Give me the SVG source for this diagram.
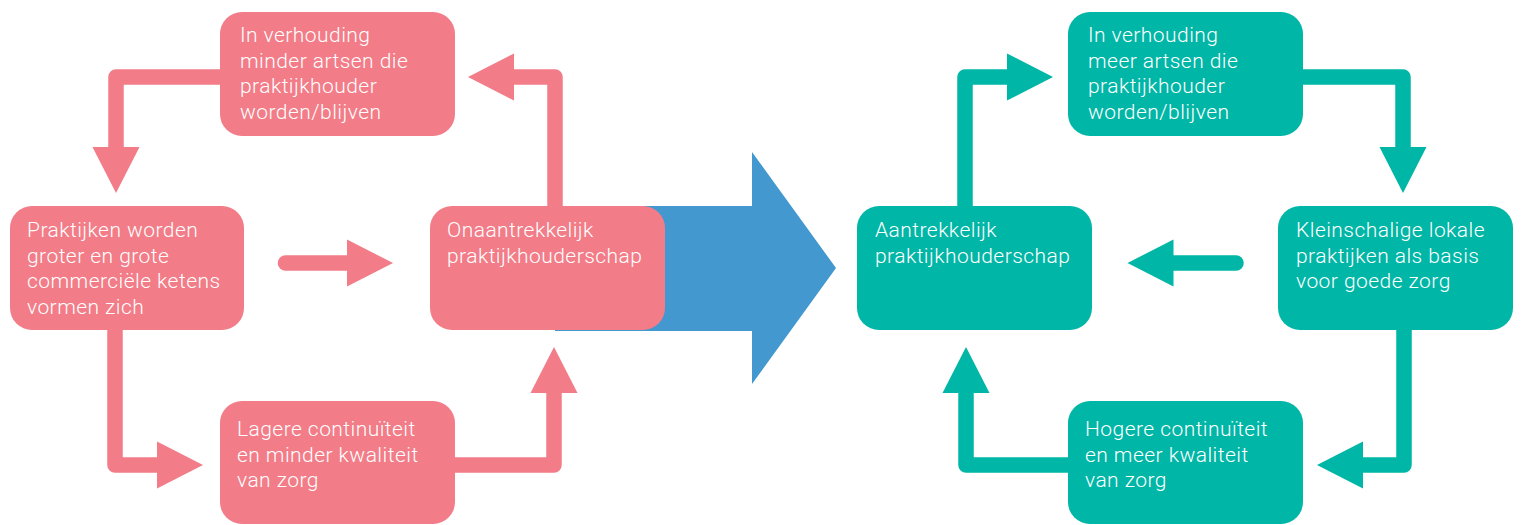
<svg xmlns="http://www.w3.org/2000/svg" width="1521" height="525" viewBox="0 0 1521 525">
<style>
.pink{fill:#F27C87}
.teal{fill:#00B6A6}
.txt{fill:#FFFFFF;font-family:Roboto,"Liberation Sans",sans-serif;font-weight:300;font-size:21px;letter-spacing:0.45px}
.cp{fill:none;stroke:#F27C87;stroke-width:15.5;stroke-linejoin:round}
.ct{fill:none;stroke:#00B6A6;stroke-width:15.5;stroke-linejoin:round}
</style>
<defs>
<marker id="hp" markerUnits="userSpaceOnUse" markerWidth="46" markerHeight="47" refX="0" refY="23.5" orient="auto" overflow="visible"><path d="M0,0 L46,23.5 L0,47 z" fill="#F27C87"/></marker>
<marker id="ht" markerUnits="userSpaceOnUse" markerWidth="46" markerHeight="47" refX="0" refY="23.5" orient="auto" overflow="visible"><path d="M0,0 L46,23.5 L0,47 z" fill="#00B6A6"/></marker>
</defs>
<polygon id="big-arrow" points="555,206 752,206 752,152 836,268 752,384 752,331 555,331" fill="#4398CF"/>
<g id="connectors">
<path class="cp" d="M222,77 H116 V147" marker-end="url(#hp)"/>
<path class="cp" d="M555,208 V77 H514" marker-end="url(#hp)"/>
<path class="cp" d="M285.5,263 H347" stroke-linecap="round" marker-end="url(#hp)"/>
<path class="cp" d="M115,328 V465 H157" marker-end="url(#hp)"/>
<path class="cp" d="M453,465 H554 V393" marker-end="url(#hp)"/>
<path class="ct" d="M965,208 V77 H1007" marker-end="url(#ht)"/>
<path class="ct" d="M1300,77 H1403 V147" marker-end="url(#ht)"/>
<path class="ct" d="M1236,263 H1173.5" stroke-linecap="round" marker-end="url(#ht)"/>
<path class="ct" d="M1404,328 V465 H1363" marker-end="url(#ht)"/>
<path class="ct" d="M1070,465 H966 V393" marker-end="url(#ht)"/>
</g>
<g id="n-minder-artsen">
<rect class="pink" x="220" y="12" width="235" height="124" rx="22"/>
<text class="txt" x="240" y="42">In verhouding</text>
<text class="txt" x="240" y="67.5">minder artsen die</text>
<text class="txt" x="240" y="93">praktijkhouder</text>
<text class="txt" x="240" y="118.5">worden/blijven</text>
</g>
<g id="n-praktijken-groter">
<rect class="pink" x="10" y="206" width="234" height="124" rx="22"/>
<text class="txt" x="27" y="237">Praktijken worden</text>
<text class="txt" x="27" y="262.5">groter en grote</text>
<text class="txt" x="27" y="288">commerciële ketens</text>
<text class="txt" x="27" y="313.5">vormen zich</text>
</g>
<g id="n-onaantrekkelijk">
<rect class="pink" x="430" y="206" width="235" height="124" rx="22"/>
<text class="txt" x="447" y="237">Onaantrekkelijk</text>
<text class="txt" x="447" y="262.5">praktijkhouderschap</text>
</g>
<g id="n-lagere-continuiteit">
<rect class="pink" x="220" y="401" width="235" height="123" rx="22"/>
<text class="txt" x="237" y="436">Lagere continuïteit</text>
<text class="txt" x="237" y="461.5">en minder kwaliteit</text>
<text class="txt" x="237" y="487">van zorg</text>
</g>
<g id="n-meer-artsen">
<rect class="teal" x="1068" y="12" width="235" height="124" rx="22"/>
<text class="txt" x="1088" y="42">In verhouding</text>
<text class="txt" x="1088" y="67.5">meer artsen die</text>
<text class="txt" x="1088" y="93">praktijkhouder</text>
<text class="txt" x="1088" y="118.5">worden/blijven</text>
</g>
<g id="n-aantrekkelijk">
<rect class="teal" x="857" y="206" width="235" height="124" rx="22"/>
<text class="txt" x="875" y="237">Aantrekkelijk</text>
<text class="txt" x="875" y="262.5">praktijkhouderschap</text>
</g>
<g id="n-kleinschalige">
<rect class="teal" x="1278" y="206" width="235" height="124" rx="22"/>
<text class="txt" x="1296" y="237">Kleinschalige lokale</text>
<text class="txt" x="1296" y="262.5">praktijken als basis</text>
<text class="txt" x="1296" y="288">voor goede zorg</text>
</g>
<g id="n-hogere-continuiteit">
<rect class="teal" x="1068" y="401" width="235" height="123" rx="22"/>
<text class="txt" x="1085" y="436">Hogere continuïteit</text>
<text class="txt" x="1085" y="461.5">en meer kwaliteit</text>
<text class="txt" x="1085" y="487">van zorg</text>
</g>
</svg>
